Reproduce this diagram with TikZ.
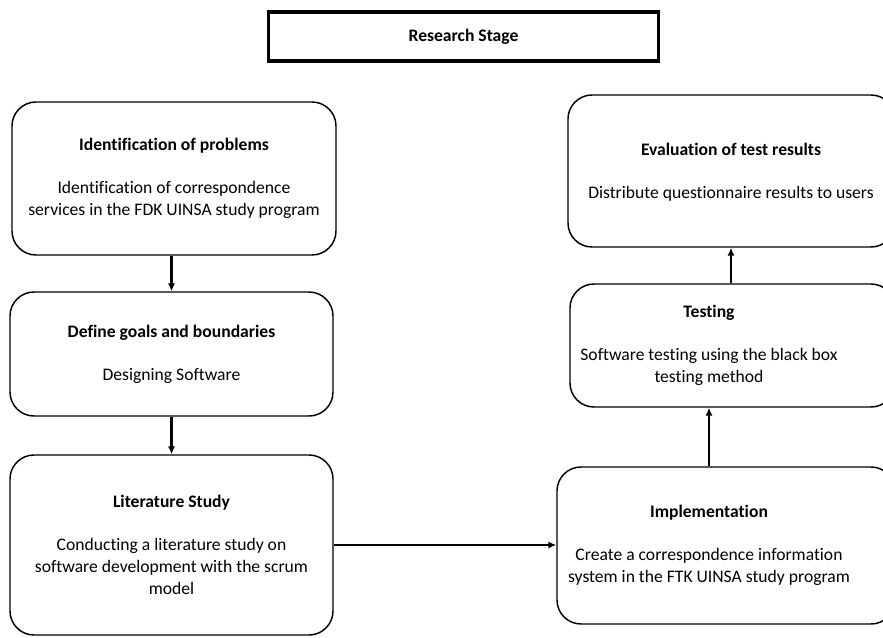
\documentclass[tikz,border=0pt]{standalone}
\usepackage{fontspec}
\setmainfont{Carlito}[Ligatures=NoCommon]
\usetikzlibrary{arrows.meta}

\tikzset{
  stagebox/.style={draw, rounded corners=18pt, line width=1.1pt, inner sep=0pt},
  stagetext/.style={align=center, inner sep=0.75pt, font=\fontsize{13.2}{16.5}\selectfont},
  flow/.style={line width=1.9pt, -{Latex[length=6pt,width=5.5pt]}},
}

\begin{document}
\begin{tikzpicture}[x=0.75pt,y=0.75pt,yscale=-1,xscale=1]
\useasboundingbox (0,0) rectangle (883,637);

%Shape: Rectangle [title]
\node [draw, line width=2.4pt, minimum width=293pt, minimum height=36.75pt, inner sep=0pt, font=\bfseries\fontsize{13.2}{16.5}\selectfont] (stage) at (463.5,36.5) {Research Stage};

%Shape: Rounded Rect [left column]
\node [stagebox, stagetext, minimum width=243pt, minimum height=114.75pt] (ident) at (174,178.5) {\textbf{Identification of problems}\\[15.5pt]Identification of correspondence\\services in the FDK UINSA study program};
\node [stagebox, stagetext, minimum width=242.25pt, minimum height=93pt] (goals) at (171.5,354) {\textbf{Define goals and boundaries}\\[15.5pt]Designing Software};
\node [stagebox, stagetext, minimum width=242.25pt, minimum height=135pt] (lit) at (171.5,545) {\textbf{Literature Study}\\[15.5pt]Conducting a literature study on\\software development with the scrum\\model};

%Shape: Rounded Rect [right column]
\node [stagebox, minimum width=245.25pt, minimum height=114pt] (eval) at (731.5,171) {};
\node [stagebox, minimum width=243.75pt, minimum height=92.25pt] (testing) at (732.5,345.5) {};
\node [stagebox, minimum width=253.5pt, minimum height=117.75pt] (impl) at (726,545.5) {};

% Text Node
\node [stagetext] (evaltext) at (731,172) {\textbf{Evaluation of test results}\\[15.5pt]Distribute questionnaire results to users};
% Text Node
\node [stagetext] (testtext) at (709,345.5) {\textbf{Testing}\\[15.5pt]Software testing using the black box\\testing method};
% Text Node
\node [stagetext] (impltext) at (709,545) {\textbf{Implementation}\\[15.5pt]Create a correspondence information\\system in the FTK UINSA study program};

%Straight Lines [arrows]
\draw [flow] (goals.north |- ident.south) -- (goals.north);
\draw [flow] (goals.south) -- (lit.north);
\draw [flow] (lit.east) -- (lit.east -| impl.west);
\draw [flow] (impl.north -| testtext) -- (testing.south -| testtext);
\draw [flow] (testing.north -| evaltext) -- (eval.south -| evaltext);

\end{tikzpicture}
\end{document}
